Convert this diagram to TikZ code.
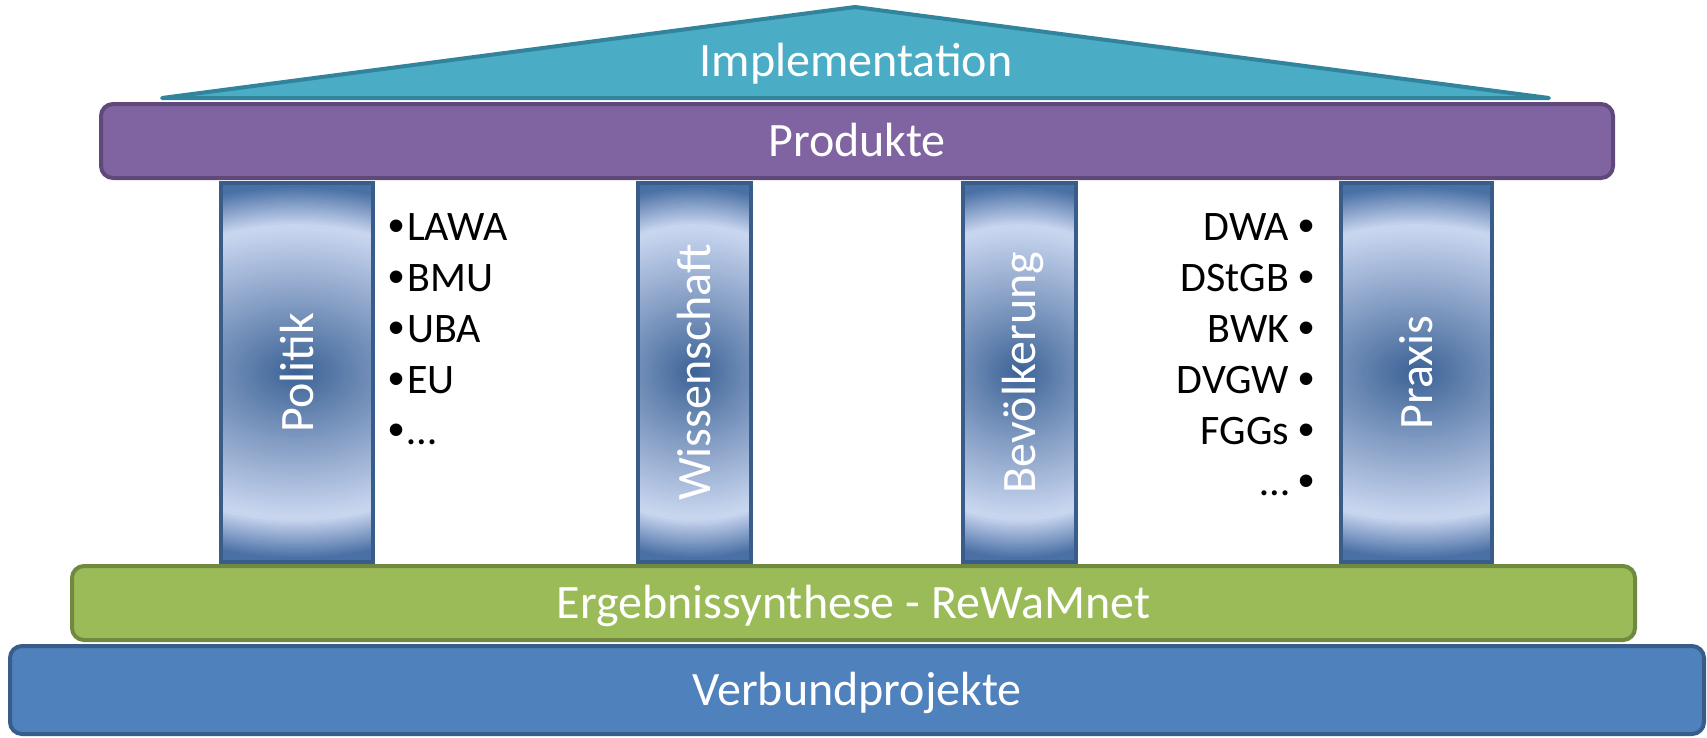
\documentclass[tikz,border=0pt]{standalone}
\usepackage{fontspec}
\setmainfont{Carlito}
\newfontfamily\bulletfont{Liberation Sans}
\usepackage{tikz}
\usetikzlibrary{shapes}
\definecolor{rooffill}{HTML}{4BACC6}
\definecolor{roofline}{HTML}{31849B}
\definecolor{prodfill}{HTML}{8064A2}
\definecolor{prodline}{HTML}{5F497A}
\definecolor{synfill}{HTML}{9BBB59}
\definecolor{synline}{HTML}{71893F}
\definecolor{verbfill}{HTML}{4F81BD}
\definecolor{verbline}{HTML}{385D8A}
\definecolor{pillardark}{HTML}{3A6195}
\definecolor{pillarlight}{HTML}{C8D5EF}
\definecolor{pillarrim}{HTML}{4A70A6}
\newcommand{\labelfont}{\fontsize{48}{56}\selectfont}
\newcommand{\listfont}{\fontsize{42}{51}\selectfont}
\newcommand{\dotb}{{\bulletfont\fontsize{46}{51}\selectfont\raisebox{-1.5pt}{•}}}
\newcommand{\glowb}{212}
% one ring of the pillar glow: step (of 100), half width of the glow
\newcommand{\glowring}[2]{%
    \pgfmathsetmacro{\kk}{#1/2}%
    \ifdim\kk pt>35pt
        \pgfmathsetmacro{\mixp}{max(0,(44-\kk)/9*100)}%
        \colorlet{ringcol}{pillarlight!\mixp!pillarrim}%
    \else
        \pgfmathsetmacro{\mixp}{min(100,100*(\kk/34)^0.95)}%
        \colorlet{ringcol}{pillarlight!\mixp!pillardark}%
    \fi
    \fill[ringcol] (path picture bounding box.center) ellipse [x radius={#2*\kk/50}, y radius={\glowb*\kk/50}];}

\begin{document}
\begin{tikzpicture}[x=1pt,y=-1pt]
    \tikzset{
        box/.style = {draw, line width=4pt, rounded corners=12pt, inner sep=0pt,
            text=white, font=\labelfont, text height=30pt, text depth=0pt},
        pillar/.style = {draw=verbline, line width=4pt, fill=pillarrim,
            minimum width=#1, minimum height=379, inner sep=0pt,
            path picture={\foreach \k in {100,...,1} {\glowring{\k}{2*#1}}}},
        pillarlabel/.style = {rotate=90, anchor=base, inner sep=0pt, text=white, font=\labelfont},
        listitem/.style = {inner sep=0pt, text=black, font=\listfont}
    }
    \useasboundingbox (0,0) rectangle (1707,737);
    \begin{scope}
        %\draw[help lines] (0,0) grid (1707,737);
        % roof
        \coordinate (roofleft) at (162,98);
        \coordinate (roofpeak) at (855,7);
        \coordinate (roofright) at (1549,98);
        \draw[line width=4pt, line join=round, draw=roofline, fill=rooffill]
            (roofleft) -- (roofpeak) -- (roofright) -- cycle;
        \node[inner sep=0pt, anchor=base, text=white, font=\labelfont] (implementation) at (856,76) {Implementation};

        % pillars
        \node[pillar=152] (politik) at (297,372.5) {};
        \node[pillar=113] (wissenschaft) at (694.5,372.5) {};
        \node[pillar=113] (bevoelkerung) at (1019.5,372.5) {};
        \node[pillar=151] (praxis) at (1416.5,372.5) {};

        \node[pillarlabel] (politiktext) at ([xshift=16pt]politik.center) {Politik};
        \node[pillarlabel] (wissenschafttext) at ([xshift=16pt]wissenschaft.center) {Wissenschaft};
        \node[pillarlabel] (bevoelkerungtext) at ([xshift=16pt]bevoelkerung.center) {Bevölkerung};
        \node[pillarlabel] (praxistext) at ([xshift=16pt]praxis.center) {Praxis};

        % beams
        \node[box, draw=prodline, fill=prodfill, minimum width=1512, minimum height=74] (produkte) at (857,141) {Produkte};
        \node[box, draw=synline, fill=synfill, minimum width=1563, minimum height=74] (synthese) at (853.5,603) {Ergebnissynthese - ReWaMnet};
        \node[box, draw=verbline, fill=verbfill, minimum width=1694, minimum height=88] (verbund) at (857,690) {Verbundprojekte};

        % lists
        \node[listitem, anchor=base west] (lawa) at (388,240) {\dotb\kern3pt LAWA};
        \node[listitem, anchor=base west] (bmu) at (388,291) {\dotb\kern3pt BMU};
        \node[listitem, anchor=base west] (uba) at (388,342) {\dotb\kern3pt UBA};
        \node[listitem, anchor=base west] (eu) at (388,393) {\dotb\kern3pt EU};
        \node[listitem, anchor=base west] (moreleft) at (388,444) {\dotb\kern3pt …};

        \node[listitem, anchor=base east] (dwa) at (1315,240) {DWA \dotb};
        \node[listitem, anchor=base east] (dstgb) at (1315,291) {DStGB \dotb};
        \node[listitem, anchor=base east] (bwk) at (1315,342) {BWK \dotb};
        \node[listitem, anchor=base east] (dvgw) at (1315,393) {DVGW \dotb};
        \node[listitem, anchor=base east] (fggs) at (1315,444) {FGGs \dotb};
        \node[listitem, anchor=base east] (moreright) at (1315,495) {… \dotb};
    \end{scope}
\end{tikzpicture}
\end{document}
